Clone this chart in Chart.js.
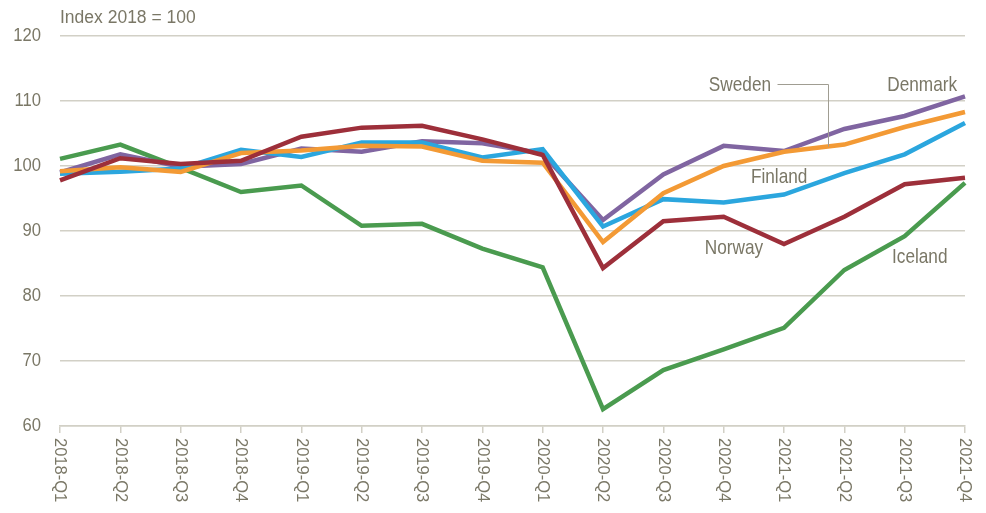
<!DOCTYPE html>
<html>
<head>
<meta charset="utf-8">
<script src="https://cdn.jsdelivr.net/npm/chart.js@4.4.1/dist/chart.umd.min.js"></script>
<style>
    body { margin: 0; background: #fff; }
    #wrap { width: 986px; height: 513px; position: relative; }
</style>
</head>
<body>
<div id="wrap"><canvas id="chart"></canvas></div>
<script>
const quarters = ['2018-Q1', '2018-Q2', '2018-Q3', '2018-Q4', '2019-Q1', '2019-Q2', '2019-Q3', '2019-Q4',
    '2020-Q1', '2020-Q2', '2020-Q3', '2020-Q4', '2021-Q1', '2021-Q2', '2021-Q3', '2021-Q4'];

const denmark = [99.0, 101.8, 99.9, 100.3, 102.7, 102.2, 103.8, 103.5, 101.9, 91.7, 98.7, 103.1, 102.3, 105.7, 107.7, 110.7];
const sweden = [99.2, 99.8, 99.1, 102.0, 102.4, 103.1, 103.0, 100.8, 100.5, 88.3, 95.8, 100.0, 102.2, 103.3, 106.0, 108.3];
const finland = [98.8, 99.1, 99.6, 102.5, 101.4, 103.6, 103.6, 101.3, 102.6, 90.7, 94.9, 94.4, 95.6, 98.9, 101.8, 106.6];
const norway = [97.8, 101.2, 100.3, 100.8, 104.5, 105.9, 106.2, 104.1, 101.7, 84.3, 91.5, 92.2, 88.0, 92.2, 97.2, 98.2];
const iceland = [101.1, 103.3, 99.7, 96.0, 97.0, 90.8, 91.1, 87.3, 84.4, 62.6, 68.6, 71.8, 75.1, 84.0, 89.2, 97.4];

const yTicks = [60, 70, 80, 90, 100, 110, 120];
const unitLabel = 'Index 2018 = 100';

const textColor = '#7a7766';
const gridColor = '#d2d0c6';
const fontFamily = '"Liberation Sans", Arial, sans-serif';
// series names use a narrow face in the original; squeeze the regular one
const narrow = 0.82;

// series labels placed in data units (category index, value)
const seriesLabels = [
    {text: 'Sweden', x: 11.27, y: 112.5},
    {text: 'Denmark', x: 14.29, y: 112.5},
    {text: 'Finland', x: 11.92, y: 98.3},
    {text: 'Norway', x: 11.17, y: 87.4},
    {text: 'Iceland', x: 14.25, y: 86.0}
];
const swedenLeader = [[11.88, 112.6], [12.73, 112.6], [12.73, 103.1]];

function drawText(ctx, text, x, y, align, squeeze, rotate) {
    ctx.save();
    ctx.translate(x, y);
    if (rotate) ctx.rotate(rotate);
    ctx.scale(squeeze, 1);
    ctx.textAlign = align;
    ctx.fillText(text, 0, 0);
    ctx.restore();
}

const annotations = {
    id: 'annotations',
    afterDatasetsDraw(chart) {
        const ctx = chart.ctx;
        const xs = chart.scales.x;
        const ys = chart.scales.y;
        ctx.save();
        ctx.fillStyle = textColor;
        ctx.textBaseline = 'middle';

        ctx.font = '21px ' + fontFamily;
        seriesLabels.forEach(l => {
            drawText(ctx, l.text, xs.getPixelForValue(l.x), ys.getPixelForValue(l.y), 'center', narrow);
        });

        ctx.strokeStyle = '#a09d92';
        ctx.lineWidth = 1;
        ctx.beginPath();
        swedenLeader.forEach((p, i) => {
            const px = Math.round(xs.getPixelForValue(p[0])) + 0.5;
            const py = Math.round(ys.getPixelForValue(p[1])) + 0.5;
            if (i === 0) ctx.moveTo(px, py); else ctx.lineTo(px, py);
        });
        ctx.stroke();

        // y tick labels
        ctx.font = '17.5px ' + fontFamily;
        yTicks.forEach(v => {
            drawText(ctx, String(v), chart.chartArea.left - 19, ys.getPixelForValue(v), 'right', 0.95);
        });

        // unit label top-left
        ctx.font = '17.5px ' + fontFamily;
        drawText(ctx, unitLabel, chart.chartArea.left, 18, 'left', 1);

        // x labels rotated, reading top to bottom
        ctx.font = '16.5px ' + fontFamily;
        quarters.forEach((q, i) => {
            drawText(ctx, q, xs.getPixelForValue(i), xs.top + 12, 'left', 1, Math.PI / 2);
        });
        ctx.restore();
    }
};

const makeSet = (label, data, color, order) => ({
    label: label,
    data: data,
    borderColor: color,
    backgroundColor: color,
    borderWidth: 4.5,
    pointRadius: 0,
    tension: 0,
    order: order
});

new Chart(document.getElementById('chart'), {
    type: 'line',
    data: {
        labels: quarters,
        datasets: [
            makeSet('Denmark', denmark, '#8065a1', 4),
            makeSet('Sweden', sweden, '#f39a35', 2),
            makeSet('Finland', finland, '#2ba6de', 3),
            makeSet('Norway', norway, '#9d2f3a', 1),
            makeSet('Iceland', iceland, '#4a9b4f', 5)
        ]
    },
    options: {
        responsive: true,
        maintainAspectRatio: false,
        animation: false,
        layout: {padding: {top: 36, right: 21, left: 0, bottom: 0}},
        plugins: {
            legend: {display: false},
            tooltip: {enabled: false}
        },
        scales: {
            x: {
                offset: false,
                grid: {drawOnChartArea: false, drawTicks: true, tickLength: 7, color: gridColor, lineWidth: 1.5},
                border: {display: true, color: gridColor, width: 1.5},
                ticks: {display: false},
                afterFit(scale) { scale.height = 87; }
            },
            y: {
                min: 60,
                max: 120,
                afterBuildTicks(scale) { scale.ticks = yTicks.map(v => ({value: v})); },
                grid: {drawTicks: false, color: gridColor, lineWidth: 1.5},
                border: {display: false},
                ticks: {display: false},
                afterFit(scale) { scale.width = 60; }
            }
        }
    },
    plugins: [annotations]
});
</script>
</body>
</html>
